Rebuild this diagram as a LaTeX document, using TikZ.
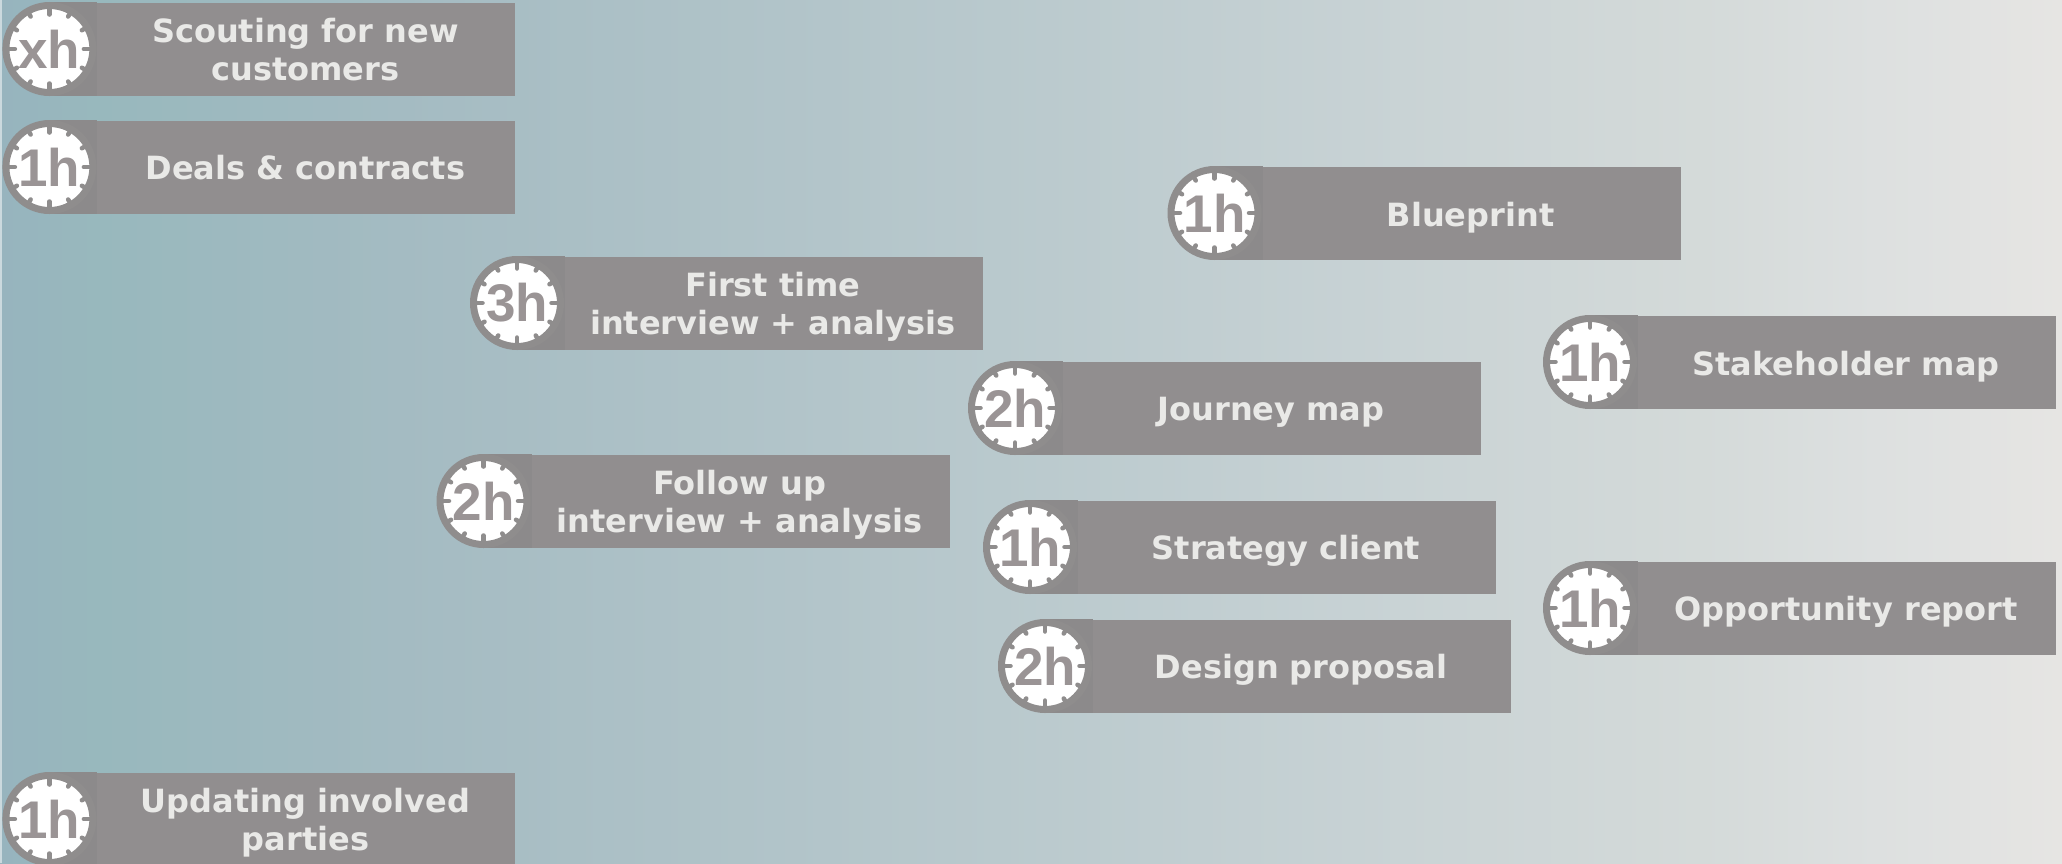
\documentclass[tikz,border=0pt]{standalone}
\usepackage{fontspec}
\setmainfont{DejaVu Sans}
\newfontfamily\hourfont{Liberation Sans}
\definecolor{barcol}{HTML}{918E8F}
\definecolor{tabcol}{HTML}{8C8A8B}
\definecolor{ringcol}{HTML}{8F8D8D}
\definecolor{hourcol}{HTML}{9A9495}
\definecolor{labelcol}{HTML}{E9E9E7}
\definecolor{bgL}{HTML}{97B4BE}
\definecolor{bgA}{HTML}{98B8BD}
\definecolor{bgB}{HTML}{A4BBC2}
\definecolor{bgC}{HTML}{B9C9CD}
\definecolor{bgD}{HTML}{C9D3D5}
\definecolor{bgE}{HTML}{D4DAD9}
\definecolor{bgF}{HTML}{DDE0E0}
\definecolor{bgG}{HTML}{E6E5E3}
% the path covers 25bp..75bp of the shading
\pgfdeclarehorizontalshading{bgramp}{100bp}{
  color(0bp)=(bgL);
  color(25bp)=(bgL);
  color(27.4bp)=(bgA);
  color(34.7bp)=(bgB);
  color(49.2bp)=(bgC);
  color(59bp)=(bgD);
  color(66.2bp)=(bgE);
  color(70.5bp)=(bgF);
  color(75bp)=(bgG);
  color(100bp)=(bgG)}
\tikzset{
  x=1pt,y=-1pt,
  barbox/.style={fill=barcol,minimum width=420pt,minimum height=92.5pt,inner sep=0pt,outer sep=0pt,anchor=north west},
  labelbox/.style={inner sep=0pt,align=center,text=labelcol,font=\fontsize{32}{38}\selectfont\bfseries},
  dialbox/.style={circle,fill=white,draw=ringcol,line width=7pt,minimum size=87pt,inner sep=0pt,outer sep=0pt},
  hourbox/.style={inner sep=0pt,text=hourcol,font=\fontsize{53}{53}\selectfont\hourfont\bfseries},
  longtick/.style={draw=ringcol,line width=4.5pt,line cap=round},
}
\newcommand{\timecard}[6]{% name, X, Y, hours, text, label shift
  \node[barbox] (#1) at (#2+93,#3) {};
  \fill[tabcol] (#2+47,#3-1) rectangle (#2+95,#3+92.5);
  \node[dialbox] (#1d) at (#2+47,#3+46) {};
  \foreach \a in {0,90,180,270}{\draw[longtick] (#1d.center)++(\a:34.5) -- ++(\a:8);}
  \foreach \a in {30,60,120,150,210,240,300,330}{\draw[longtick] (#1d.center)++(\a:37.5) -- ++(\a:4);}
  \node[hourbox] (#1t) at (#1d.center) {#4};
  \node[labelbox] (#1l) at ([yshift=#6]#1.center) {#5};
}
\begin{document}
\begin{tikzpicture}
\useasboundingbox (0,0) rectangle (2062,863);
\clip (0,0) rectangle (2062,863);
\shade[shading=bgramp] (0,0) rectangle (2062,863);
\fill[white,opacity=.5] (0,0) rectangle (2,863);
\timecard{scout}{2.4}{3}{xh}{Scouting for new\\customers}{0pt}
\timecard{deals}{2.4}{121}{1h}{Deals \& contracts}{0pt}
\timecard{blue}{1167.5}{167}{1h}{Blueprint}{-4pt}
\timecard{first}{470}{257}{3h}{First time\\interview + analysis}{-4pt}
\timecard{stake}{1543}{316}{1h}{Stakeholder map}{-4pt}
\timecard{journey}{968}{362}{2h}{Journey map}{-4pt}
\timecard{follow}{436.5}{455}{2h}{Follow up\\interview + analysis}{-4pt}
\timecard{strat}{983}{501}{1h}{Strategy client}{-4pt}
\timecard{opp}{1543}{562}{1h}{Opportunity report}{-4pt}
\timecard{design}{998}{620}{2h}{Design proposal}{-4pt}
\timecard{update}{2.4}{773}{1h}{Updating involved\\parties}{-3pt}
\end{tikzpicture}
\end{document}
